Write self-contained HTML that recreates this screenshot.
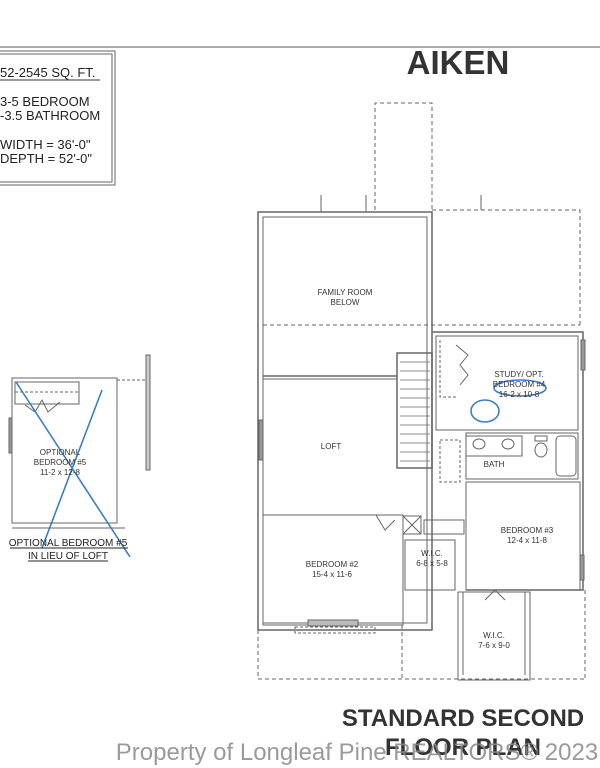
<!DOCTYPE html>
<html><head><style>
html,body{margin:0;padding:0;background:#fff;}
svg{display:block;}
text{font-family:"Liberation Sans",sans-serif;}
</style></head><body>
<svg width="600" height="768" viewBox="0 0 600 768" xmlns="http://www.w3.org/2000/svg">
<rect width="600" height="768" fill="#fff"/>
<line x1="0" y1="47" x2="600" y2="47" stroke="#555" stroke-width="1"/>
<rect x="-2" y="51" width="117" height="134" fill="none" stroke="#666" stroke-width="1"/>
<rect x="-2" y="54" width="114" height="128" fill="none" stroke="#666" stroke-width="1"/>
<g font-size="13" fill="#222">
<text x="0" y="77">52-2545 SQ. FT.</text>
<line x1="0" y1="80" x2="100" y2="80" stroke="#333"/>
<text x="0" y="106">3-5 BEDROOM</text>
<text x="0" y="120">-3.5 BATHROOM</text>
<text x="0" y="149">WIDTH = 36'-0"</text>
<text x="0" y="163">DEPTH = 52'-0"</text>
</g>
<text x="458" y="74" font-size="33" font-weight="bold" text-anchor="middle" fill="#333">AIKEN</text>

<g fill="none" stroke="#666" stroke-width="1">
<path d="M375 210 V103 H432 V210" stroke-dasharray="4,3"/>
<line x1="321" y1="195" x2="321" y2="212"/><line x1="366" y1="195" x2="366" y2="212"/>
<line x1="481" y1="195" x2="481" y2="210"/>
<path d="M432 210 H580 V325" stroke-dasharray="4,3"/>
<line x1="263" y1="325" x2="580" y2="325" stroke-dasharray="4,3"/>
<rect x="258" y="212" width="174" height="418" stroke-width="1.5"/>
<rect x="263" y="217" width="164" height="406"/>
<path d="M432 332 H583 V590 H466" stroke-width="1.5"/>
<path d="M436 336 H578 V430 H436 Z"/>
<line x1="263" y1="376" x2="397" y2="376" stroke-width="1.5"/>
<line x1="263" y1="379" x2="397" y2="379"/>
<rect x="397" y="353" width="35" height="115" stroke-width="1.5"/>
<g stroke-width="0.8">
<line x1="400" y1="362" x2="430" y2="362"/><line x1="400" y1="371" x2="430" y2="371"/><line x1="400" y1="380" x2="430" y2="380"/><line x1="400" y1="389" x2="430" y2="389"/><line x1="400" y1="398" x2="430" y2="398"/><line x1="400" y1="407" x2="430" y2="407"/><line x1="400" y1="416" x2="430" y2="416"/><line x1="400" y1="425" x2="430" y2="425"/><line x1="400" y1="434" x2="430" y2="434"/><line x1="400" y1="443" x2="430" y2="443"/><line x1="400" y1="452" x2="430" y2="452"/><line x1="400" y1="461" x2="430" y2="461"/>
</g>
<path d="M440 340 V397 H458" stroke-dasharray="3,2"/>
<path d="M456 345 L468 355 L460 365 L468 375 L460 385"/>
<rect x="466" y="433" width="112" height="46"/>
<rect x="466" y="436" width="56" height="20"/>
<ellipse cx="479" cy="444" rx="6" ry="5"/><ellipse cx="508" cy="444" rx="6" ry="5"/>
<ellipse cx="541" cy="450" rx="6" ry="7"/><rect x="535" y="436" width="12" height="5"/>
<rect x="556" y="436" width="20" height="40" rx="4"/>
<rect x="440" y="440" width="20" height="42" stroke-dasharray="3,2"/>
<rect x="466" y="482" width="114" height="108"/>
<rect x="263" y="515" width="140" height="110"/>
<path d="M376 515 L385 530 L395 520"/>
<rect x="403" y="516" width="18" height="18"/><line x1="403" y1="516" x2="421" y2="534"/><line x1="421" y1="516" x2="403" y2="534"/>
<rect x="424" y="520" width="40" height="14"/>
<rect x="405" y="540" width="50" height="50"/>
<rect x="458" y="592" width="72" height="88"/>
<line x1="463" y1="592" x2="463" y2="675"/><line x1="525" y1="592" x2="525" y2="675"/>
<path d="M485 600 L495 590 L505 600"/>
<path d="M258 679 H585" stroke-dasharray="4,3"/>
<path d="M258 630 V679 M402 625 V679 M585 590 V679" stroke-dasharray="4,3"/>
<rect x="308" y="620" width="50" height="6" fill="#bbb"/>
<rect x="295" y="627" width="80" height="6" stroke-dasharray="3,2"/>
<rect x="12" y="378" width="105" height="145"/>
<rect x="15" y="382" width="64" height="22"/>
<line x1="15" y1="392" x2="78" y2="392" stroke-dasharray="3,2"/>
<path d="M25 405 L35 412 L42 400 L48 412 L60 402"/>
<line x1="117" y1="380" x2="148" y2="380" stroke-dasharray="3,2"/>
<rect x="146" y="355" width="4" height="115" fill="#ccc"/>
<line x1="12" y1="528" x2="125" y2="528"/>
<rect x="9" y="418" width="3" height="35" fill="#999"/>
<rect x="259" y="420" width="4" height="40" fill="#999"/>
<rect x="581" y="340" width="4" height="30" fill="#999"/>
<rect x="580" y="555" width="4" height="25" fill="#999"/>
</g>
<g fill="none" stroke="#3a7fc4" stroke-width="1.6">
<path d="M16 382 L130 557"/><path d="M102 390 L42 548"/>
<ellipse cx="485" cy="411" rx="14" ry="11"/>
<ellipse cx="520" cy="388" rx="26" ry="8"/>
</g>
<g font-size="8" fill="#333" text-anchor="middle">
<text x="345" y="295">FAMILY ROOM</text><text x="345" y="305">BELOW</text>
<text x="331" y="449">LOFT</text>
<text x="519" y="377">STUDY/ OPT.</text><text x="519" y="387">BEDROOM #4</text><text x="519" y="397">16-2 x 10-8</text>
<text x="494" y="467">BATH</text>
<text x="527" y="533">BEDROOM #3</text><text x="527" y="543">12-4 x 11-8</text>
<text x="332" y="567">BEDROOM #2</text><text x="332" y="577">15-4 x 11-6</text>
<text x="432" y="556">W.I.C.</text><text x="432" y="566">6-8 x 5-8</text>
<text x="494" y="638">W.I.C.</text><text x="494" y="648">7-6 x 9-0</text>
<text x="60" y="455">OPTIONAL</text><text x="60" y="465">BEDROOM #5</text><text x="60" y="475">11-2 x 12-8</text>
</g>
<g font-size="10" fill="#222" text-anchor="middle">
<text x="68" y="546">OPTIONAL BEDROOM #5</text>
<line x1="10" y1="548" x2="128" y2="548" stroke="#222"/>
<text x="68" y="559">IN LIEU OF LOFT</text>
<line x1="28" y1="561" x2="108" y2="561" stroke="#222"/>
</g>
<text x="463" y="726" font-size="24" font-weight="bold" text-anchor="middle" fill="#333">STANDARD SECOND</text>
<text x="463" y="755" font-size="24" font-weight="bold" text-anchor="middle" fill="#333">FLOOR PLAN</text>
<text x="357" y="760" font-size="24" text-anchor="middle" fill="#888" fill-opacity="0.85">Property of Longleaf Pine REALTORS® 2023</text>
</svg>
</body></html>
